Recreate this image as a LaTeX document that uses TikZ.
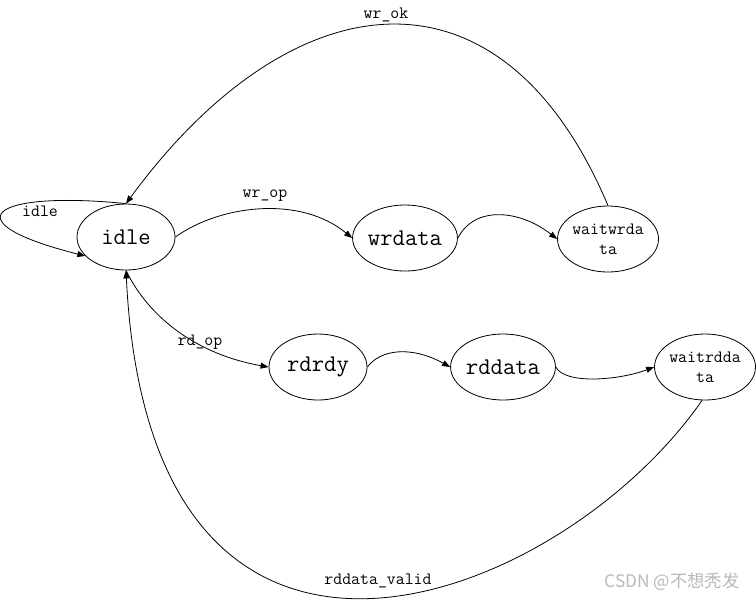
\documentclass[tikz,border=0pt]{standalone}
\usepackage{fontspec}
\newfontfamily\cjkfont{Noto Sans CJK SC}
\usetikzlibrary{arrows.meta,shapes.geometric}
\tikzset{
	fsm/.style={draw,ellipse,minimum width=73.5pt,minimum height=49.5pt,inner sep=0pt,line width=0.6pt,font=\ttfamily\fontsize{18}{19}\selectfont},
	fsm small/.style={fsm,align=center,font=\ttfamily\fontsize{13}{15}\selectfont},
	trans/.style={-{Triangle[length=6pt,width=4.5pt]},line width=0.6pt},
	lbl/.style={inner sep=0pt,font=\ttfamily\fontsize{13}{14}\selectfont}
}
\begin{document}
\begin{tikzpicture}[x=0.75pt,y=-0.75pt]
				\useasboundingbox (0,0) rectangle (756,601);
				\foreach \n/\x/\y in {idle/126/237,wrdata/405/238,rdrdy/318/367,rddata/503/367}{
					\node[fsm] (\n) at (\x,\y) {\n};
				}
				\node[fsm small] (waitwrdata) at (608,239) {waitwrda\\ta};
				\node[fsm small] (waitrddata) at (705,367) {waitrdda\\ta};
				% transitions
				\draw[trans] (idle.north) .. controls (-10,190) and (-50,222) .. (idle.205);
				\draw[trans] (idle.east) .. controls (220,205) and (300,195) .. (wrdata.west);
				\draw[trans] (wrdata.east) .. controls (475,205) and (520,210) .. (waitwrdata.west);
				\draw[trans] (waitwrdata.north) .. controls (500,-50) and (290,-20) .. (idle.north);
				\draw[trans] (idle.south) .. controls (150,320) and (200,355) .. (rdrdy.west);
				\draw[trans] (rdrdy.east) .. controls (380,350) and (410,345) .. (rddata.west);
				\draw[trans] (rddata.east) .. controls (565,385) and (620,380) .. (waitrddata.west);
				\draw[trans] (waitrddata.265) .. controls (560,605) and (150,765) .. (idle.south);
				% labels
				\foreach \n/\x/\y/\t in {lidle/40/211/idle,lwrop/265/196/wr\_op,lwrok/386/15/wr\_ok,lrdop/200/342/rd\_op,lvalid/378/581/rddata\_valid}{
					\node[lbl] (\n) at (\x,\y) {\t};
				}
				\node[text=gray!55,font=\cjkfont\fontsize{13}{14}\selectfont] (mark) at (672,582) {CSDN @不想秃发};
			\end{tikzpicture}
\end{document}
